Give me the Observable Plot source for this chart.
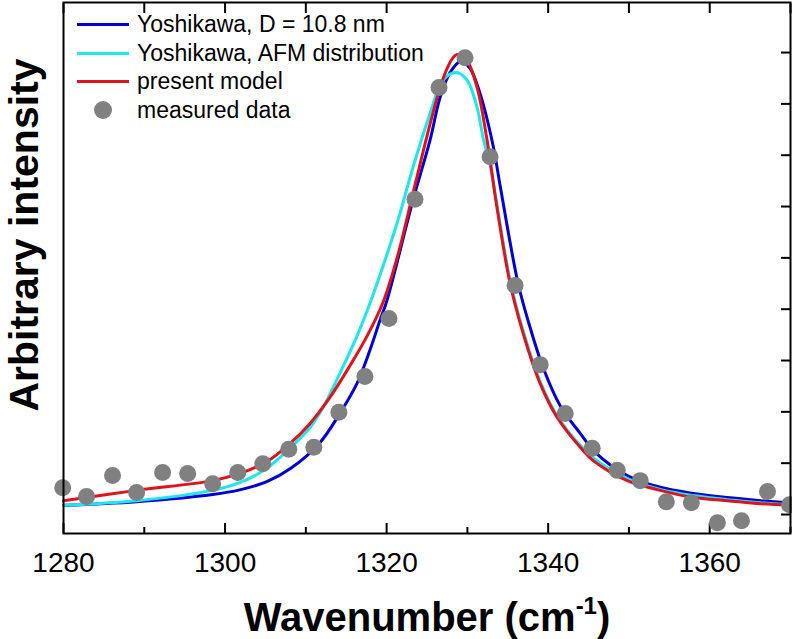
<!DOCTYPE html>
<html><head><meta charset="utf-8">
<script src="https://cdn.jsdelivr.net/npm/d3@7"></script>
<script src="https://cdn.jsdelivr.net/npm/@observablehq/plot@0.6"></script>
<style>
body{margin:0;background:#fff;}
#wrap{position:relative;width:792px;height:639px;font-family:"Liberation Sans",Arial,Helvetica,sans-serif;color:#000;overflow:hidden;}
#wrap svg{position:absolute;left:0;top:0;}
#legend{position:absolute;left:77px;top:10px;font-size:23px;}
#legend .row{display:flex;align-items:center;height:28.7px;white-space:nowrap;}
#legend .sw{display:inline-block;width:52px;margin-right:8px;position:relative;height:18px;}
#legend .sw .ln{position:absolute;left:0;right:0;top:7.5px;height:3px;}
#legend .sw .dt{position:absolute;left:17px;top:0;width:18px;height:18px;border-radius:50%;}
#xtitle{position:absolute;left:64px;width:726px;top:597px;text-align:center;font-weight:bold;font-size:40px;line-height:40px;white-space:nowrap;}
#xtitle sup{font-size:24px;position:relative;top:-0.1em;line-height:0;}
#ytitle{position:absolute;left:-165.6px;top:215px;width:380px;height:40px;line-height:40px;text-align:center;font-weight:bold;font-size:41px;transform:rotate(-90deg);white-space:nowrap;}
</style></head><body><div id="wrap"></div>
<script>
// measured data
const measX = [1279.9,1282.85,1286.07,1289.05,1292.27,1295.37,1298.47,1301.57,1304.67,1307.89,1310.99,1314.09,1317.31,1320.29,1323.51,1326.49,1329.71,1332.81,1335.91,1339.01,1342.11,1345.45,1348.55,1351.40,1354.63,1357.73,1360.95,1363.93,1367.15,1369.88];
const measY = [0.52,0.35,0.76,0.43,0.82,0.80,0.60,0.82,0.99,1.27,1.31,1.99,2.69,3.82,6.14,8.32,8.90,6.97,4.46,2.92,1.97,1.29,0.86,0.66,0.25,0.23,-0.16,-0.12,0.45,0.19];
// Yoshikawa, D = 10.8 nm
const blueX = [1280,1289.05,1298.47,1301.82,1305.17,1308.14,1311.74,1314.21,1316.32,1317.93,1319.17,1320.04,1323.26,1325.37,1326.61,1327.85,1329.21,1330.33,1331.57,1333.18,1334.05,1336.28,1337.77,1339.38,1341.49,1343.97,1345.83,1349.79,1353.88,1357.98,1362.19,1366.28,1370];
const blueY = [0.18,0.25,0.39,0.48,0.64,0.90,1.40,1.97,2.55,3.20,3.78,4.17,6.12,7.29,8.12,8.61,8.83,8.69,8.20,7.19,6.41,4.50,3.64,2.86,2.12,1.58,1.21,0.76,0.53,0.41,0.33,0.27,0.23];
// Yoshikawa, AFM distribution
const cyanX = [1280,1289.05,1298.47,1301.82,1305.17,1308.14,1310.50,1312.11,1314.21,1316.32,1317.93,1319.17,1321.28,1323.26,1325.37,1326.98,1328.59,1329.96,1331.20,1331.94,1332.81,1333.68,1335.29,1336.90,1339.01,1341.49,1345.58,1349.79,1353.88,1357.98,1362.19,1366.28,1370];
const cyanY = [0.18,0.27,0.47,0.62,0.90,1.31,1.69,2.08,2.75,3.47,4.11,4.66,5.67,6.76,7.81,8.46,8.61,8.46,7.93,7.34,6.80,6.02,4.56,3.58,2.59,1.83,1.11,0.70,0.49,0.37,0.29,0.23,0.19];
// present model
const redX = [1280,1289.05,1298.47,1301.82,1305.17,1308.02,1310.50,1312.98,1315.46,1317.56,1319.55,1321.28,1323.26,1325.37,1326.98,1328.22,1328.72,1329.96,1331.20,1332.44,1333.68,1335.29,1336.90,1339.01,1341.12,1343.97,1345.58,1349.79,1353.88,1357.98,1362.19,1366.28,1370];
const redY = [0.27,0.47,0.66,0.80,1.03,1.38,1.77,2.28,2.90,3.47,4.13,4.99,6.25,7.60,8.49,8.90,8.96,8.84,8.32,7.29,5.96,4.50,3.53,2.55,1.89,1.31,1.05,0.66,0.47,0.33,0.27,0.21,0.18];

const xMajor = [1280,1300,1320,1340,1360];
const xMinor = [1290,1310,1330,1350,1370];
const yTicks = [0,1,2,3,4,5,6,7,8,9];

const seriesNames = ["Yoshikawa, D = 10.8 nm","Yoshikawa, AFM distribution","present model","measured data"];
const seriesColors = ["#0000d2","#1ee6ee","#e0121a","#808080"];

const zip = (xs, ys) => xs.map((x, i) => ({x, y: ys[i]}));
const meas = zip(measX, measY);
const blue = zip(blueX, blueY);
const cyan = zip(cyanX, cyanY);
const red = zip(redX, redY);

const blank = () => "";
const plot = Plot.plot({
  width: 792, height: 639,
  marginLeft: 63, marginRight: 2, marginTop: 2, marginBottom: 106,
  x: {domain: [1280, 1370], axis: null},
  y: {domain: [-0.37, 9.975], axis: null},
  style: {fontFamily: '"Liberation Sans", Arial, sans-serif', background: "transparent", color: "#000"},
  marks: [
    Plot.axisX({anchor: "bottom", ticks: xMajor, tickSize: -10, tickFormat: blank, label: null, strokeWidth: 2}),
    Plot.axisX({anchor: "bottom", ticks: xMinor, tickSize: -6, tickFormat: blank, label: null, strokeWidth: 2}),
    Plot.axisX({anchor: "top", ticks: xMajor, tickSize: -10, tickFormat: blank, label: null, strokeWidth: 2}),
    Plot.axisX({anchor: "top", ticks: xMinor, tickSize: -10, tickFormat: blank, label: null, strokeWidth: 2}),
    Plot.axisX({anchor: "bottom", ticks: xMajor, tickSize: 0, tickPadding: 19, fontSize: 28, label: null, tickFormat: d => String(d)}),
    Plot.axisY({anchor: "right", ticks: yTicks, tickSize: -10, tickFormat: blank, label: null, strokeWidth: 2}),
    Plot.line(blue, {x: "x", y: "y", stroke: seriesColors[0], strokeWidth: 3, curve: "catmull-rom"}),
    Plot.line(cyan, {x: "x", y: "y", stroke: seriesColors[1], strokeWidth: 3, curve: "catmull-rom"}),
    Plot.line(red, {x: "x", y: "y", stroke: seriesColors[2], strokeWidth: 3, curve: "catmull-rom"}),
    Plot.dot(meas, {x: "x", y: "y", r: 8.5, fill: seriesColors[3], stroke: "none"}),
    Plot.frame({stroke: "#000", strokeWidth: 2})
  ]
});
const wrap = document.getElementById("wrap");
wrap.appendChild(plot);

const legend = document.createElement("div");
legend.id = "legend";
seriesNames.forEach((name, i) => {
  const row = document.createElement("div");
  row.className = "row";
  const sw = document.createElement("span");
  sw.className = "sw";
  const mark = document.createElement("span");
  mark.className = i === 3 ? "dt" : "ln";
  mark.style.background = seriesColors[i];
  sw.appendChild(mark);
  row.appendChild(sw);
  row.appendChild(document.createTextNode(name));
  legend.appendChild(row);
});
wrap.appendChild(legend);

const xt = document.createElement("div");
xt.id = "xtitle";
xt.innerHTML = "Wavenumber (cm<sup>-1</sup>)";
wrap.appendChild(xt);
const yt = document.createElement("div");
yt.id = "ytitle";
yt.textContent = "Arbitrary intensity";
wrap.appendChild(yt);
</script></body></html>
